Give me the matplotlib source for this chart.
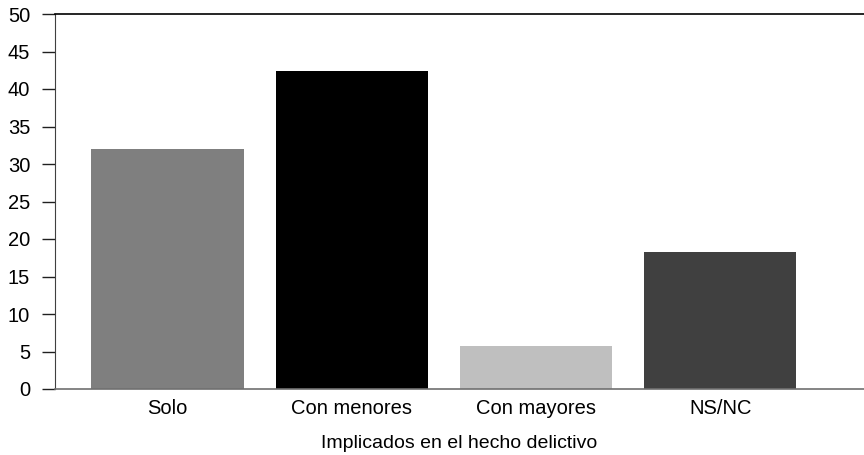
import matplotlib.pyplot as plt

plt.rcParams['font.family'] = ['Liberation Sans', 'DejaVu Sans']

categories = ["Solo", "Con menores", "Con mayores", "NS/NC"]
values = [32.0, 42.4, 5.7, 18.3]
colors = ["#7f7f7f", "#000000", "#bfbfbf", "#404040"]
yticks = [0, 5, 10, 15, 20, 25, 30, 35, 40, 45, 50]

fig = plt.figure(figsize=(8.64, 4.55), dpi=100)
ax = fig.add_axes([55 / 864, 66 / 455, 1 - 55 / 864, (389 - 14) / 455])

x = list(range(len(categories)))
ax.bar(x, values, width=0.826, color=colors)

ax.set_xlim(-0.61, 3.78)
ax.set_ylim(0, 50)
ax.set_yticks(yticks)
ax.set_xticks(x)
ax.set_xticklabels(categories)
ax.set_xlabel("Implicados en el hecho delictivo", fontsize=14, labelpad=12)

ax.spines['right'].set_visible(False)
ax.spines['top'].set_color('black')
ax.spines['top'].set_linewidth(1.2)
ax.spines['left'].set_color('#404040')
ax.spines['bottom'].set_color('#707070')
ax.spines['bottom'].set_linewidth(1.2)

ax.tick_params(axis='y', length=9.4, width=1, color='#202020', labelsize=14.5, pad=8.5)
ax.tick_params(axis='x', length=0, labelsize=14.5, pad=7.5)

fig.savefig("out.png", dpi=100)
